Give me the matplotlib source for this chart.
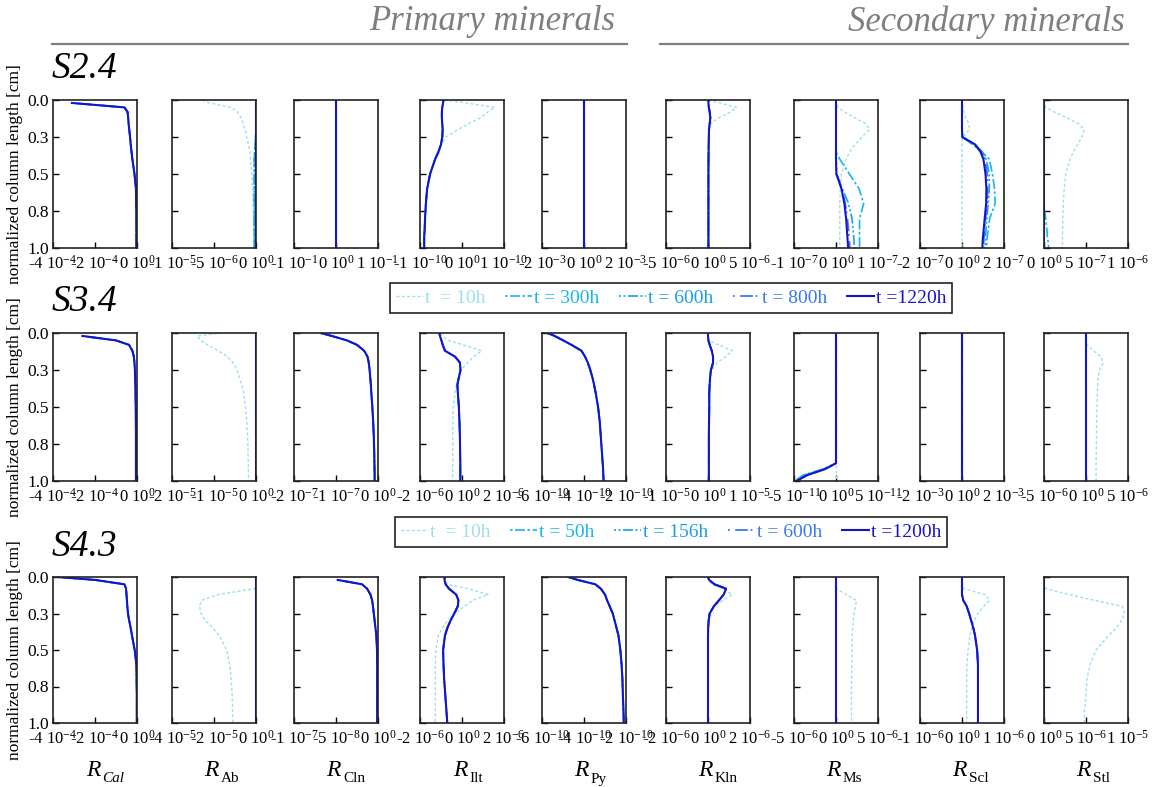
import numpy as np
import matplotlib.pyplot as plt
from matplotlib.lines import Line2D

plt.rcParams['font.family'] = ['Liberation Serif', 'DejaVu Serif']
plt.rcParams['mathtext.fontset'] = 'custom'
plt.rcParams['mathtext.rm'] = 'Liberation Serif'
plt.rcParams['mathtext.it'] = 'Liberation Serif:italic'

W, H = 1154, 787
nan = np.nan

# normalized depth grid (0 = column top)
depth = [0, .02, .05, .08, .12, .16, .2, .25, .3, .35, .4, .5, .6, .7, .8, .88, .92, .96, 1.0]
zeros = [0, 0, 0, 0, 0, 0, 0, 0, 0, 0, 0, 0, 0, 0, 0, 0, 0, 0, 0]

minerals = ['Cal', 'Ab', 'Cln', 'Ilt', 'Py', 'Kln', 'Ms', 'Scl', 'Stl']

# ---- S2.4 (values in units of the panel's tick exponent)
s24_cal = [nan, -3.1, -0.6, -0.45, -0.42, -0.40, -0.37, -0.33, -0.30, -0.26, -0.22, -0.12, -0.05, -0.04, -0.03, -0.03, -0.03, -0.03, -0.03]
s24_ab_10 = [-0.64, -0.55, -0.30, -0.22, -0.18, -0.15, -0.13, -0.11, -0.09, -0.075, -0.065, -0.05, -0.04, -0.035, -0.03, -0.025, -0.025, -0.02, -0.02]
s24_ab_300 = [0, 0, 0, 0, 0, 0, 0, -0.005, -0.01, -0.015, -0.02, -0.02, -0.02, -0.02, -0.02, -0.02, -0.02, -0.02, -0.02]
s24_ilt_10 = [-0.42, 0.1, 0.78, 0.62, 0.45, 0.15, -0.1, -0.38, -0.5, -0.58, -0.64, -0.76, -0.83, -0.86, -0.88, -0.89, -0.9, -0.9, -0.9]
s24_ilt = [-0.44, -0.45, -0.47, -0.48, -0.48, -0.47, -0.46, -0.47, -0.5, -0.56, -0.64, -0.76, -0.83, -0.86, -0.88, -0.89, -0.9, -0.9, -0.9]
s24_kln_10 = [0.05, 1.5, 3.4, 2.7, 1.3, 0.3, 0.15, 0.1, 0.08, 0.07, 0.06, 0.05, 0.05, 0.05, 0.05, 0.05, 0.05, 0.05, 0.05]
s24_kln = [0.05, 0.05, 0.1, 0.2, 0.28, 0.2, 0.12, 0.1, 0.08, 0.07, 0.06, 0.05, 0.05, 0.05, 0.05, 0.05, 0.05, 0.05, 0.05]
s24_ms_10 = [0, 0, 0.05, 0.19, 0.45, 0.71, 0.8, 0.62, 0.45, 0.33, 0.24, 0.13, 0.1, 0.09, 0.09, 0.09, 0.09, 0.09, 0.09]
s24_ms_300 = [0, 0, 0, 0, 0, 0, 0, 0, 0, 0, 0.09, 0.32, 0.55, 0.66, 0.56, 0.56, 0.56, 0.56, 0.56]
s24_ms_600 = [0, 0, 0, 0, 0, 0, 0, 0, 0, 0, 0, 0, 0.15, 0.3, 0.38, 0.41, 0.42, 0.43, 0.43]
s24_ms_800 = [0, 0, 0, 0, 0, 0, 0, 0, 0, 0, 0, 0.02, 0.14, 0.22, 0.27, 0.3, 0.31, 0.32, 0.33]
s24_ms = [0, 0, 0, 0, 0, 0, 0, 0, 0, 0, 0, 0.01, 0.13, 0.2, 0.24, 0.26, 0.27, 0.28, 0.29]
s24_scl_10 = [0, 0, 0.05, 0.1, 0.17, 0.33, 0.35, 0.02, 0, 0, 0, 0, 0, 0, 0, 0, 0, 0, 0]
s24_scl_300 = [0, 0, 0, 0, 0, 0, 0, 0, 0.5, 0.95, 1.3, 1.45, 1.55, 1.58, 1.32, 1.25, 1.21, 1.18, 1.16]
s24_scl_600 = [0, 0, 0, 0, 0, 0, 0, 0, 0.55, 0.95, 1.15, 1.3, 1.3, 1.25, 1.18, 1.14, 1.12, 1.11, 1.1]
s24_scl_800 = [0, 0, 0, 0, 0, 0, 0, 0, 0.62, 0.95, 1.1, 1.2, 1.22, 1.2, 1.12, 1.07, 1.05, 1.03, 1.02]
s24_scl = [0, 0, 0, 0, 0, 0, 0, 0.02, 0.62, 0.88, 1.02, 1.12, 1.16, 1.15, 1.08, 1.03, 1.0, 0.98, 0.97]
s24_stl_10 = [0, 0, 0.02, 0.12, 0.27, 0.41, 0.48, 0.45, 0.4, 0.35, 0.31, 0.26, 0.24, 0.23, 0.225, 0.22, 0.22, 0.22, 0.22]
s24_stl_300 = [0, 0, 0, 0, 0, 0, 0, 0, 0, 0, 0, 0, 0, 0, 0.02, 0.035, 0.04, 0.05, 0.055]

# ---- S3.4
s34_cal = [nan, -2.6, -1.0, -0.38, -0.22, -0.15, -0.12, -0.1, -0.09, -0.08, -0.07, -0.06, -0.055, -0.05, -0.05, -0.05, -0.05, -0.05, -0.05]
s34_ab_10 = [-0.8, -1.4, -1.32, -1.15, -0.9, -0.68, -0.55, -0.45, -0.4, -0.34, -0.3, -0.25, -0.22, -0.2, -0.19, -0.185, -0.18, -0.18, -0.18]
s34_cln = [-1.37, -1.1, -0.74, -0.5, -0.33, -0.25, -0.22, -0.2, -0.185, -0.17, -0.16, -0.135, -0.115, -0.1, -0.09, -0.085, -0.082, -0.08, -0.08]
s34_ilt_10 = [-1.0, -0.95, -0.65, 0.05, 0.94, 0.55, 0.28, -0.05, -0.18, -0.27, -0.33, -0.41, -0.44, -0.44, -0.44, -0.44, -0.44, -0.44, -0.44]
s34_ilt = [-1.08, -1.05, -0.98, -0.92, -0.81, -0.33, -0.1, -0.07, -0.15, -0.22, -0.2, -0.15, -0.12, -0.1, -0.09, -0.08, -0.08, -0.08, -0.08]
s34_py = [-5.75, -5.4, -4.99, -4.6, -4.12, -3.95, -3.82, -3.7, -3.6, -3.52, -3.45, -3.33, -3.25, -3.2, -3.15, -3.11, -3.09, -3.08, -3.07]
s34_kln_10 = [0, 0, 0, 0.25, 0.58, 0.42, 0.22, 0.08, 0.05, 0.04, 0.03, 0.03, 0.025, 0.02, 0.02, 0.02, 0.02, 0.02, 0.02]
s34_kln = [0, 0, 0.01, 0.04, 0.09, 0.12, 0.12, 0.07, 0.05, 0.04, 0.03, 0.03, 0.025, 0.02, 0.02, 0.02, 0.02, 0.02, 0.02]
s34_ms_300 = [0, 0, 0, 0, 0, 0, 0, 0, 0, 0, 0, 0, 0, 0, 0, 0, -1.6, -3.9, -4.95]
s34_ms_600 = [0, 0, 0, 0, 0, 0, 0, 0, 0, 0, 0, 0, 0, 0, 0, 0, -1.5, -3.7, -4.85]
s34_ms_800 = [0, 0, 0, 0, 0, 0, 0, 0, 0, 0, 0, 0, 0, 0, 0, 0, -1.4, -3.5, -4.8]
s34_ms = [0, 0, 0, 0, 0, 0, 0, 0, 0, 0, 0, 0, 0, 0, 0, 0, -1.3, -3.4, -4.7]
s34_stl_10 = [0, 0, 0, 0.1, 0.9, 1.75, 2.05, 1.6, 1.45, 1.4, 1.35, 1.3, 1.27, 1.25, 1.22, 1.2, 1.2, 1.2, 1.2]

# ---- S4.3
s43_cal = [-3.8, -2.0, -0.6, -0.52, -0.5, -0.48, -0.46, -0.43, -0.37, -0.3, -0.24, -0.11, -0.03, -0.02, -0.01, -0.01, -0.01, -0.01, -0.01]
s43_ab_10 = [0, 0, 0, -0.05, -1.8, -2.6, -2.69, -2.62, -2.4, -2.05, -1.75, -1.4, -1.25, -1.18, -1.14, -1.12, -1.12, -1.11, -1.1]
s43_cln = [nan, -0.48, -0.19, -0.13, -0.09, -0.07, -0.06, -0.05, -0.04, -0.03, -0.02, -0.012, -0.01, -0.01, -0.01, -0.01, -0.01, -0.01, -0.01]
s43_ilt_10 = [-0.85, -0.85, -0.7, 0.3, 1.25, 0.5, 0.13, -0.35, -0.68, -0.95, -1.12, -1.25, -1.27, -1.27, -1.27, -1.27, -1.27, -1.27, -1.27]
s43_ilt = [-0.83, -0.83, -0.78, -0.62, -0.28, -0.17, -0.2, -0.37, -0.55, -0.7, -0.81, -0.9, -0.88, -0.85, -0.8, -0.76, -0.74, -0.72, -0.7]
s43_py = [-4.75, -4.3, -3.46, -3.2, -3.0, -2.9, -2.78, -2.63, -2.54, -2.45, -2.36, -2.27, -2.21, -2.17, -2.15, -2.13, -2.12, -2.11, -2.11]
s43_kln_10 = [0, 0.03, 0.2, 0.7, 1.15, 0.7, 0.3, 0.1, 0.03, 0.01, 0, 0, 0, 0, 0, 0, 0, 0, 0]
s43_kln = [0, 0.05, 0.31, 0.86, 0.75, 0.52, 0.28, 0.08, 0.03, 0.01, 0, 0, 0, 0, 0, 0, 0, 0, 0]
s43_ms_10 = [0, 0, 0, 0, 1.2, 2.45, 2.3, 2.15, 2.05, 1.97, 1.93, 1.9, 1.88, 1.86, 1.85, 1.84, 1.84, 1.84, 1.84]
s43_scl_10 = [0, 0, 0.0, 0.04, 0.55, 0.66, 0.52, 0.38, 0.29, 0.23, 0.19, 0.145, 0.12, 0.11, 0.11, 0.11, 0.11, 0.11, 0.11]
s43_scl = [0, 0, 0, 0, 0, 0.03, 0.11, 0.17, 0.22, 0.27, 0.31, 0.36, 0.38, 0.38, 0.38, 0.38, 0.38, 0.38, 0.38]
s43_stl_10 = [0, 0, 0, 0.02, 0.3, 0.6, 0.93, 0.96, 0.92, 0.86, 0.77, 0.62, 0.55, 0.51, 0.5, 0.49, 0.48, 0.48, 0.48]

# series order: 10h, t2, t3, t4, last
s24 = [
    (s24_cal, s24_cal, s24_cal, s24_cal, s24_cal),
    (s24_ab_10, s24_ab_300, s24_ab_300, zeros, zeros),
    (zeros, zeros, zeros, zeros, zeros),
    (s24_ilt_10, s24_ilt, s24_ilt, s24_ilt, s24_ilt),
    (zeros, zeros, zeros, zeros, zeros),
    (s24_kln_10, s24_kln, s24_kln, s24_kln, s24_kln),
    (s24_ms_10, s24_ms_300, s24_ms_600, s24_ms_800, s24_ms),
    (s24_scl_10, s24_scl_300, s24_scl_600, s24_scl_800, s24_scl),
    (s24_stl_10, s24_stl_300, zeros, zeros, zeros),
]
s34 = [
    (s34_cal, s34_cal, s34_cal, s34_cal, s34_cal),
    (s34_ab_10, zeros, zeros, zeros, zeros),
    (s34_cln, s34_cln, s34_cln, s34_cln, s34_cln),
    (s34_ilt_10, s34_ilt, s34_ilt, s34_ilt, s34_ilt),
    (s34_py, s34_py, s34_py, s34_py, s34_py),
    (s34_kln_10, s34_kln, s34_kln, s34_kln, s34_kln),
    (zeros, s34_ms_300, s34_ms_600, s34_ms_800, s34_ms),
    (zeros, zeros, zeros, zeros, zeros),
    (s34_stl_10, zeros, zeros, zeros, zeros),
]
s43 = [
    (s43_cal, s43_cal, s43_cal, s43_cal, s43_cal),
    (s43_ab_10, zeros, zeros, zeros, zeros),
    (s43_cln, s43_cln, s43_cln, s43_cln, s43_cln),
    (s43_ilt_10, s43_ilt, s43_ilt, s43_ilt, s43_ilt),
    (s43_py, s43_py, s43_py, s43_py, s43_py),
    (s43_kln_10, s43_kln, s43_kln, s43_kln, s43_kln),
    (s43_ms_10, zeros, zeros, zeros, zeros),
    (s43_scl_10, s43_scl, s43_scl, s43_scl, s43_scl),
    (s43_stl_10, zeros, zeros, zeros, zeros),
]

# x ticks per panel: (left, mid, right) in panel units, and their labels (mantissa, exponent)
ticks24 = [(-4, -2, 0), (-1, -0.5, 0), (-1, 0, 1), (-1, 0, 1), (-2, 0, 2), (-5, 0, 5), (-1, 0, 1), (-2, 0, 2), (0, 0.5, 1)]
labels24 = [[('-4', -4), ('-2', -4), ('0', 0)], [('-1', -5), ('-5', -6), ('0', 0)], [('-1', -1), ('0', 0), ('1', -1)],
            [('-1', -10), ('0', 0), ('1', -10)], [('-2', -3), ('0', 0), ('2', -3)], [('-5', -6), ('0', 0), ('5', -6)],
            [('-1', -7), ('0', 0), ('1', -7)], [('-2', -7), ('0', 0), ('2', -7)], [('0', 0), ('5', -7), ('1', -6)]]
ticks34 = [(-4, -2, 0), (-2, -1, 0), (-2, -1, 0), (-2, 0, 2), (-6, -4, -2), (-1, 0, 1), (-5, 0, 5), (-2, 0, 2), (-5, 0, 5)]
labels34 = [[('-4', -4), ('-2', -4), ('0', 0)], [('-2', -5), ('-1', -5), ('0', 0)], [('-2', -7), ('-1', -7), ('0', 0)],
            [('-2', -6), ('0', 0), ('2', -6)], [('-6', -10), ('-4', -10), ('-2', -10)], [('-1', -5), ('0', 0), ('1', -5)],
            [('-5', -11), ('0', 0), ('5', -11)], [('-2', -3), ('0', 0), ('2', -3)], [('-5', -6), ('0', 0), ('5', -6)]]
ticks43 = [(-4, -2, 0), (-4, -2, 0), (-1, -0.5, 0), (-2, 0, 2), (-6, -4, -2), (-2, 0, 2), (-5, 0, 5), (-1, 0, 1), (0, 0.5, 1)]
labels43 = [[('-4', -4), ('-2', -4), ('0', 0)], [('-4', -5), ('-2', -5), ('0', 0)], [('-1', -7), ('-5', -8), ('0', 0)],
            [('-2', -6), ('0', 0), ('2', -6)], [('-6', -10), ('-4', -10), ('-2', -10)], [('-2', -6), ('0', 0), ('2', -6)],
            [('-5', -6), ('0', 0), ('5', -6)], [('-1', -6), ('0', 0), ('1', -6)], [('0', 0), ('5', -6), ('1', -5)]]

legend24 = ['t  = 10h', 't = 300h', 't = 600h', 't = 800h', 't =1220h']
legend43 = ['t  = 10h', 't = 50h', 't = 156h', 't = 600h', 't =1200h']

colors = ['#9ee0ee', '#17b6ee', '#1a9fe4', '#3a78f2', '#1414cc']
styles = [(0, (2.2, 1.6)), (0, (1.5, 1.5, 6, 1.5)), (0, (1.2, 1.5, 1.2, 1.5, 6, 1.5)), (0, (1, 3, 7, 1.5)), '-']
widths = [1.0, 1.2, 1.2, 1.3, 1.5]

col_left = [53, 172, 294, 420, 542, 666, 794, 920, 1044]
col_w = 84
rows = [(100, 248), (333, 481), (577, 723)]


def box(x0, y0, x1, y1):
    return [x0 / W, 1 - y1 / H, (x1 - x0) / W, (y1 - y0) / H]


fig = plt.figure(figsize=(W / 100, H / 100), dpi=100)

data_rows = [s24, s34, s43]
tick_rows = [ticks24, ticks34, ticks43]
label_rows = [labels24, labels34, labels43]

for r, (top, bot) in enumerate(rows):
    for c in range(9):
        ax = fig.add_axes(box(col_left[c], top, col_left[c] + col_w, bot))
        for k in range(5):
            ax.plot(data_rows[r][c][k], depth, color=colors[k], ls=styles[k], lw=widths[k])
        t = tick_rows[r][c]
        ax.set_xlim(t[0], t[2])
        ax.set_ylim(1, 0)
        ax.set_xticks(t)
        ax.set_xticklabels([m + ' 10$^{%d}$' % e for m, e in label_rows[r][c]], fontsize=12)
        ax.set_yticks([0, 0.25, 0.5, 0.75, 1.0])
        if c == 0:
            ax.set_yticklabels(['0.0', '0.3', '0.5', '0.8', '1.0'], fontsize=12.5)
        else:
            ax.set_yticklabels([])
        ax.tick_params(direction='in', length=4, width=1, top=False, right=False)
        ax.tick_params(axis='x', pad=5)
        ax.tick_params(axis='y', pad=3)
        for sp in ax.spines.values():
            sp.set_linewidth(1.2)
            sp.set_color('#222222')
    fig.text(15 / W, 1 - (top + bot) / 2 / H, 'normalized column length [cm]', rotation=90,
             ha='center', va='center', fontsize=12.5)

# sample labels
for name, y in zip(['S2.4', 'S3.4', 'S4.3'], [69, 302, 547]):
    fig.text(52 / W, 1 - y / H, name, style='italic', fontsize=27, ha='left', va='center')

# group headers
fig.text(615 / W, 1 - 22 / H, 'Primary minerals', style='italic', fontsize=25, color='#7f7f7f',
         ha='right', va='center')
fig.text(1125 / W, 1 - 22 / H, 'Secondary minerals', style='italic', fontsize=25, color='#7f7f7f',
         ha='right', va='center')
fig.add_artist(Line2D([52 / W, 627 / W], [1 - 44 / H] * 2, color='#7f7f7f', lw=1.6))
fig.add_artist(Line2D([660 / W, 1128 / W], [1 - 44 / H] * 2, color='#7f7f7f', lw=1.6))

# bottom axis names
for c, m in enumerate(minerals):
    cx = col_left[c] + col_w / 2
    fig.text((cx + 5) / W, 1 - 770 / H, 'R', style='italic', fontsize=17, ha='right', va='center')
    fig.text((cx + 7) / W, 1 - 779 / H, m, fontsize=11, ha='left', va='center',
             style='italic' if m == 'Cal' else 'normal')

# legends
handles = [Line2D([], [], color=colors[k], ls=styles[k], lw=widths[k]) for k in range(5)]
for labels, yc in [(legend24, 298), (legend43, 532)]:
    leg = fig.legend(handles, labels, loc='center', bbox_to_anchor=(671 / W, 1 - yc / H), ncol=5,
                     fontsize=14, frameon=True, fancybox=False, edgecolor='#222222', framealpha=1,
                     handlelength=1.4, handletextpad=0.1, columnspacing=1.0, borderpad=0.3)
    leg.get_frame().set_linewidth(1.2)
    for txt, col in zip(leg.get_texts(), colors):
        txt.set_color(col)

fig.savefig('out.png', dpi=100)
